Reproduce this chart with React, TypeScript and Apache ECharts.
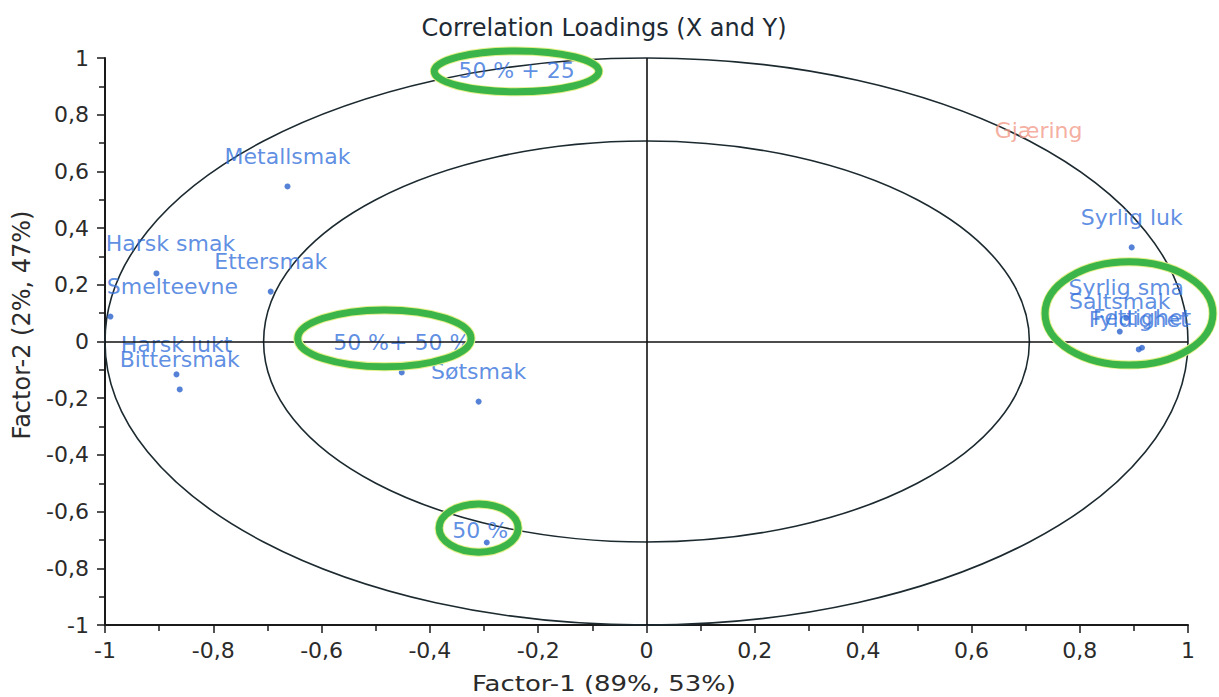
import React, { useEffect, useRef } from "react";
import * as echarts from "echarts";

// ---- data ----
const titleText = "Correlation Loadings (X and Y)";
const xAxisTitle = "Factor-1 (89%, 53%)";
const yAxisTitle = "Factor-2 (2%, 47%)";

const xTicks = [-1, -0.8, -0.6, -0.4, -0.2, 0, 0.2, 0.4, 0.6, 0.8, 1];

// X-variables (blue)
const xVarNames = [
  "Metallsmak",
  "Harsk smak",
  "Ettersmak",
  "Smelteevne",
  "Harsk lukt",
  "Bittersmak",
  "Søtsmak",
  "50 %+ 50 %",
  "Syrlig luk",
  "Syrlig sma",
  "Saltsmak",
  "Fyldighet",
  "Fettighet",
  "",
];
const xVarF1 = [-0.663, -0.905, -0.694, -0.99, -0.868, -0.862, -0.31, -0.452, 0.896, 0.886, 0.874, 0.909, 0.915, -0.295];
const xVarF2 = [0.547, 0.24, 0.176, 0.088, -0.116, -0.169, -0.212, -0.109, 0.332, 0.083, 0.035, -0.028, -0.022, -0.709];

// Y-variables (red)
const yVarNames = ["Gjæring"];
const yVarF1 = [0.724];
const yVarF2 = [0.64];

// hand-written annotations
const annoTexts = ["50 % + 25", "50 %"];
const annoF1 = [-0.24, -0.307];
const annoF2 = [0.956, -0.667];

// green hand-drawn rings (centre and radii in factor units)
const ringF1 = [-0.24, -0.484, -0.31, 0.891];
const ringF2 = [0.953, 0.011, -0.658, 0.099];
const ringRx = [0.152, 0.16, 0.073, 0.155];
const ringRy = [0.072, 0.1005, 0.085, 0.182];

// explained-variance circles
const circleR = [1, 0.7071];

// label shifts (pixels) for labels kept inside the plot
const labelShift: Record<string, number> = { "Harsk smak": 14, Smelteevne: 62 };

const FONT = "DejaVu Sans";
const BLUE = "#3672dc";
const DOT = "#2a62cc";

const fmt = (v: number) => String(Math.round(v * 10) / 10).replace(".", ",");

export default function App() {
  const ref = useRef<HTMLDivElement>(null);
  useEffect(() => {
    if (!ref.current) return;
    const chart = echarts.init(ref.current, undefined, { renderer: "svg" });

    const xData = xVarNames.map((n, i) => ({ name: n, value: [xVarF1[i], xVarF2[i]] }));

    const option: any = {
      animation: false,
      backgroundColor: "#ffffff",
      grid: { left: 105, right: 31, top: 58, bottom: 72, containLabel: false },
      xAxis: {
        type: "value",
        min: xTicks[0],
        max: xTicks[xTicks.length - 1],
        interval: 0.2,
        axisLine: { show: true, onZero: false, lineStyle: { color: "#1a1a1a", width: 2 } },
        axisTick: { show: true, length: 8, lineStyle: { color: "#1a1a1a", width: 1.5 } },
        minorTick: { show: true, splitNumber: 2, length: 6, lineStyle: { color: "#1a1a1a", width: 1.5 } },
        splitLine: { show: false },
        axisLabel: { formatter: fmt, fontFamily: FONT, fontSize: 22, color: "#2b2b2b", margin: 14 },
      },
      yAxis: {
        type: "value",
        min: -1,
        max: 1,
        interval: 0.2,
        axisLine: { show: true, onZero: false, lineStyle: { color: "#1a1a1a", width: 2 } },
        axisTick: { show: true, length: 8, lineStyle: { color: "#1a1a1a", width: 1.5 } },
        minorTick: { show: true, splitNumber: 2, length: 6, lineStyle: { color: "#1a1a1a", width: 1.5 } },
        splitLine: { show: false },
        axisLabel: { formatter: fmt, fontFamily: FONT, fontSize: 22, color: "#2b2b2b", margin: 16 },
      },
      graphic: [
        {
          type: "text",
          x: 604,
          y: 28,
          style: {
            text: titleText,
            fontFamily: FONT,
            fontSize: 24,
            fill: "#1e2a34",
            align: "center",
            verticalAlign: "middle",
            textAlign: "center",
            textVerticalAlign: "middle",
          },
        },
        {
          type: "text",
          x: 604,
          y: 684,
          scaleX: 1.18,
          style: {
            text: xAxisTitle,
            fontFamily: FONT,
            fontSize: 22,
            fill: "#2b2b2b",
            align: "center",
            verticalAlign: "middle",
            textAlign: "center",
            textVerticalAlign: "middle",
          },
        },
        {
          type: "text",
          x: 22,
          y: 325,
          rotation: Math.PI / 2,
          style: {
            text: yAxisTitle,
            fontFamily: FONT,
            fontSize: 24,
            fill: "#2b2b2b",
            align: "center",
            verticalAlign: "middle",
            textAlign: "center",
            textVerticalAlign: "middle",
          },
        },
      ],
      series: [
        {
          type: "custom",
          clip: false,
          silent: true,
          z: 1,
          encode: { x: 0, y: 1 },
          data: circleR.map((r) => [0, 0, r]),
          renderItem: (params: any, api: any) => {
            const c = api.coord([api.value(0), api.value(1)]);
            const s = api.size([api.value(2), api.value(2)]);
            return {
              type: "ellipse",
              shape: { cx: c[0], cy: c[1], rx: s[0], ry: s[1] },
              style: { fill: "none", stroke: "#1c2a30", lineWidth: 1.6 },
            };
          },
          markLine: {
            silent: true,
            symbol: "none",
            label: { show: false },
            lineStyle: { color: "#111111", width: 1.6, type: "solid" },
            data: [{ xAxis: 0 }, { yAxis: 0 }],
          },
        },
        {
          type: "scatter",
          z: 3,
          symbol: "circle",
          symbolSize: 6,
          itemStyle: { color: DOT },
          label: {
            show: true,
            position: "top",
            distance: 16,
            formatter: (p: any) => p.name,
            fontFamily: FONT,
            fontSize: 22,
            color: BLUE,
          },
          labelLayout: (params: any) => {
            const n = xVarNames[params.dataIndex];
            const dx = labelShift[n];
            return dx ? { dx, hideOverlap: false } : { hideOverlap: false };
          },
          data: xData,
        },
        {
          type: "scatter",
          z: 3,
          symbol: "circle",
          symbolSize: 6,
          itemStyle: { color: "rgba(0,0,0,0)" },
          label: {
            show: true,
            position: "top",
            distance: 16,
            formatter: (p: any) => p.name,
            fontFamily: FONT,
            fontSize: 22,
            color: "#f29a88",
          },
          data: yVarNames.map((n, i) => ({ name: n, value: [yVarF1[i], yVarF2[i]] })),
        },
        {
          type: "scatter",
          z: 3,
          symbolSize: 0,
          label: {
            show: true,
            position: "inside",
            formatter: (p: any) => p.name,
            fontFamily: FONT,
            fontSize: 22,
            color: BLUE,
          },
          data: annoTexts.map((n, i) => ({ name: n, value: [annoF1[i], annoF2[i]] })),
        },
        {
          type: "custom",
          clip: false,
          silent: true,
          z: 5,
          encode: { x: 0, y: 1 },
          data: ringF1.map((x, i) => [x, ringF2[i], ringRx[i], ringRy[i]]),
          renderItem: (params: any, api: any) => {
            const c = api.coord([api.value(0), api.value(1)]);
            const s = api.size([api.value(2), api.value(3)]);
            return {
              type: "group",
              children: [
                {
                  type: "ellipse",
                  shape: { cx: c[0], cy: c[1], rx: s[0], ry: s[1] },
                  style: { fill: "none", stroke: "#e4f08a", lineWidth: 9 },
                },
                {
                  type: "ellipse",
                  shape: { cx: c[0], cy: c[1], rx: s[0], ry: s[1] },
                  style: { fill: "none", stroke: "#3bb54a", lineWidth: 7 },
                },
              ],
            };
          },
        },
      ],
    };

    chart.setOption(option);
    return () => chart.dispose();
  }, []);

  return (
    <div
      ref={ref}
      style={{ position: "fixed", left: 0, top: 0, width: 1219, height: 697, background: "#fff" }}
    />
  );
}
